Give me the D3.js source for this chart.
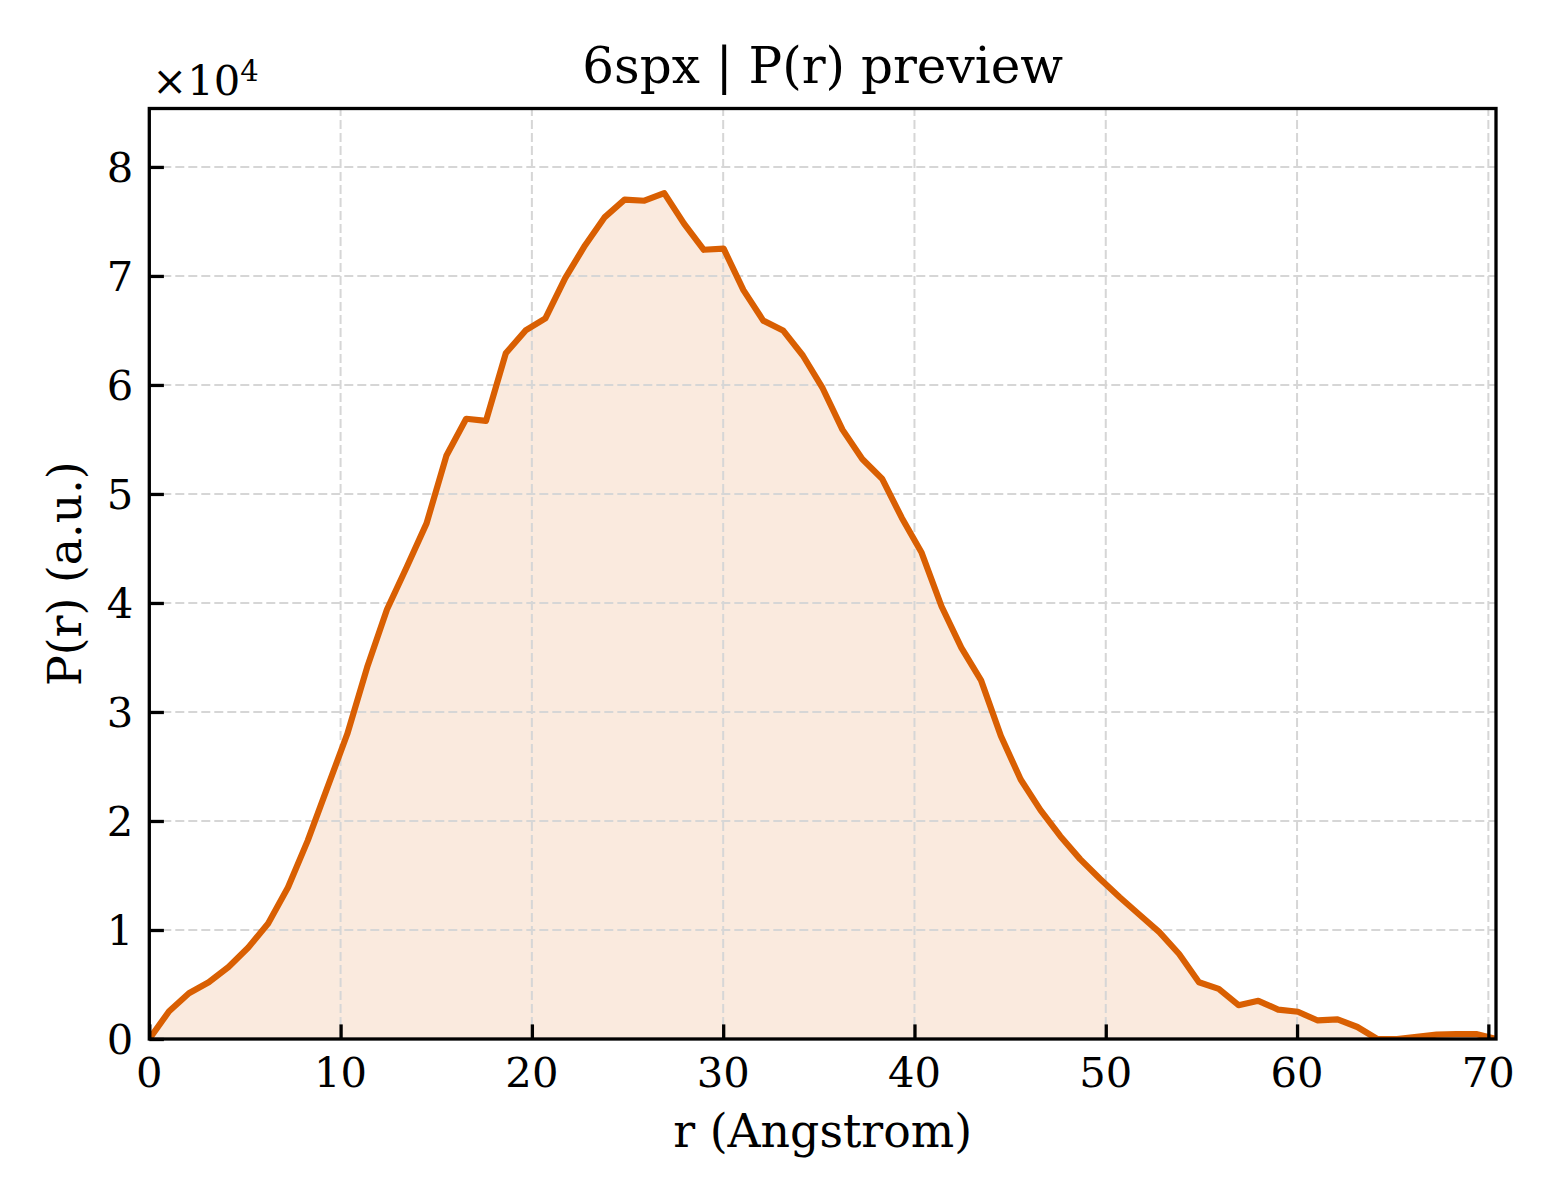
<!DOCTYPE html>
<html>
<head>
<meta charset="utf-8">
<script src="https://cdn.jsdelivr.net/npm/d3@7"></script>
<style>
  body { margin: 0; background: #fff; }
  svg { display: block; font-family: "DejaVu Serif", serif; }
</style>
</head>
<body>
<div id="chart"></div>
<script>
// Distance grid (Angstrom)
const rValues = [
  0, 1.035, 2.071, 3.106, 4.141, 5.176, 6.212, 7.247, 8.282, 9.318,
  10.353, 11.388, 12.424, 13.459, 14.494, 15.529, 16.565, 17.6, 18.635, 19.671,
  20.706, 21.741, 22.776, 23.812, 24.847, 25.882, 26.918, 27.953, 28.988, 30.024,
  31.059, 32.094, 33.129, 34.165, 35.2, 36.235, 37.271, 38.306, 39.341, 40.376,
  41.412, 42.447, 43.482, 44.518, 45.553, 46.588, 47.624, 48.659, 49.694, 50.729,
  51.765, 52.8, 53.835, 54.871, 55.906, 56.941, 57.976, 59.012, 60.047, 61.082,
  62.118, 63.153, 64.188, 65.224, 66.259, 67.294, 68.329, 69.365, 70.4
];

// P(r) in arbitrary units
const prValues = [
  0, 2550, 4200, 5200, 6600, 8400, 10600, 13900, 18200, 23100,
  28000, 34100, 39400, 43300, 47300, 53500, 56900, 56700, 62900, 65000,
  66100, 69800, 72800, 75400, 77000, 76900, 77600, 74800, 72400, 72500,
  68700, 65900, 65000, 62700, 59700, 55900, 53200, 51400, 47800, 44600,
  39700, 35900, 32900, 27800, 23800, 21000, 18600, 16500, 14700, 13000,
  11400, 9800, 7800, 5200, 4600, 3100, 3500, 2700, 2500, 1700,
  1800, 1100, 0, 0, 200, 400, 450, 450, 0
];

const xTicks = [0, 10, 20, 30, 40, 50, 60, 70];
const yTicks = [0, 1, 2, 3, 4, 5, 6, 7, 8];

const data = rValues.map((r, i) => ({r: r, p: prValues[i]}));

const width = 1560;
const height = 1200;
const margin = {top: 108.5, right: 64, bottom: 161, left: 149.3};
const lineColor = "#d95f02";

const svg = d3.select("#chart")
    .append("svg")
    .attr("width", width)
    .attr("height", height);

const xScale = d3.scaleLinear()
    .domain([0, d3.max(rValues)])
    .range([margin.left, width - margin.right]);

const yScale = d3.scaleLinear()
    .domain([0, d3.max(prValues) * 1.1])
    .range([height - margin.bottom, margin.top]);

svg.append("clipPath")
    .attr("id", "plot-clip")
    .append("rect")
    .attr("x", margin.left)
    .attr("y", margin.top)
    .attr("width", width - margin.left - margin.right)
    .attr("height", height - margin.top - margin.bottom);

// Filled area under the curve
const area = d3.area()
    .x(d => xScale(d.r))
    .y0(yScale(0))
    .y1(d => yScale(d.p));

svg.append("path")
    .datum(data)
    .attr("clip-path", "url(#plot-clip)")
    .attr("fill", lineColor)
    .attr("fill-opacity", 0.13)
    .attr("d", area);

// Grid lines
const grid = svg.append("g")
    .attr("stroke", "#d6d6d6")
    .attr("stroke-width", 2)
    .attr("stroke-dasharray", "9,4");

grid.selectAll(".gx")
    .data(xTicks.slice(1))
    .join("line")
    .attr("x1", d => xScale(d))
    .attr("x2", d => xScale(d))
    .attr("y1", yScale.range()[0])
    .attr("y2", yScale.range()[1]);

grid.selectAll(".gy")
    .data(yTicks.slice(1))
    .join("line")
    .attr("x1", xScale.range()[0])
    .attr("x2", xScale.range()[1])
    .attr("y1", d => yScale(d * 1e4))
    .attr("y2", d => yScale(d * 1e4));

// Line
const line = d3.line()
    .x(d => xScale(d.r))
    .y(d => yScale(d.p));

svg.append("path")
    .datum(data)
    .attr("clip-path", "url(#plot-clip)")
    .attr("fill", "none")
    .attr("stroke", lineColor)
    .attr("stroke-width", 6.2)
    .attr("stroke-linejoin", "round")
    .attr("d", line);

// X axis (ticks pointing inward)
const xAxis = svg.append("g")
    .attr("transform", `translate(0,${height - margin.bottom})`)
    .call(d3.axisTop(xScale).tickValues(xTicks).tickSize(14.6).tickFormat(""));

xAxis.select(".domain").remove();
xAxis.selectAll(".tick line").attr("stroke", "#000").attr("stroke-width", 3.3);

svg.append("g")
    .selectAll("text")
    .data(xTicks)
    .join("text")
    .attr("x", d => xScale(d))
    .attr("y", height - margin.bottom + 48)
    .attr("text-anchor", "middle")
    .style("font-size", "41.7px")
    .text(d => d);

// Y axis (ticks pointing inward)
const yAxis = svg.append("g")
    .attr("transform", `translate(${margin.left},0)`)
    .call(d3.axisRight(yScale).tickValues(yTicks.map(d => d * 1e4)).tickSize(14.6).tickFormat(""));

yAxis.select(".domain").remove();
yAxis.selectAll(".tick line").attr("stroke", "#000").attr("stroke-width", 3.3);

svg.append("g")
    .selectAll("text")
    .data(yTicks)
    .join("text")
    .attr("x", margin.left - 16)
    .attr("y", d => yScale(d * 1e4))
    .attr("dy", "0.36em")
    .attr("text-anchor", "end")
    .style("font-size", "41.7px")
    .text(d => d);

// Frame
svg.append("rect")
    .attr("x", margin.left)
    .attr("y", margin.top)
    .attr("width", width - margin.left - margin.right)
    .attr("height", height - margin.top - margin.bottom)
    .attr("fill", "none")
    .attr("stroke", "#000")
    .attr("stroke-width", 3.3);

// Offset text
const offset = svg.append("text")
    .attr("x", margin.left + 3)
    .attr("y", 95)
    .style("font-size", "41.7px");
offset.append("tspan").text("×10");
offset.append("tspan")
    .attr("dy", -14)
    .style("font-size", "29px")
    .text("4");

// Title
svg.append("text")
    .attr("x", (xScale.range()[0] + xScale.range()[1]) / 2)
    .attr("y", 83)
    .attr("text-anchor", "middle")
    .style("font-size", "50px")
    .text("6spx | P(r) preview");

// X axis label
svg.append("text")
    .attr("x", (xScale.range()[0] + xScale.range()[1]) / 2)
    .attr("y", 1147)
    .attr("text-anchor", "middle")
    .style("font-size", "45.8px")
    .text("r (Angstrom)");

// Y axis label
svg.append("text")
    .attr("transform", "rotate(-90)")
    .attr("x", -(yScale.range()[0] + yScale.range()[1]) / 2)
    .attr("y", 81)
    .attr("text-anchor", "middle")
    .style("font-size", "45.8px")
    .text("P(r) (a.u.)");
</script>
</body>
</html>
